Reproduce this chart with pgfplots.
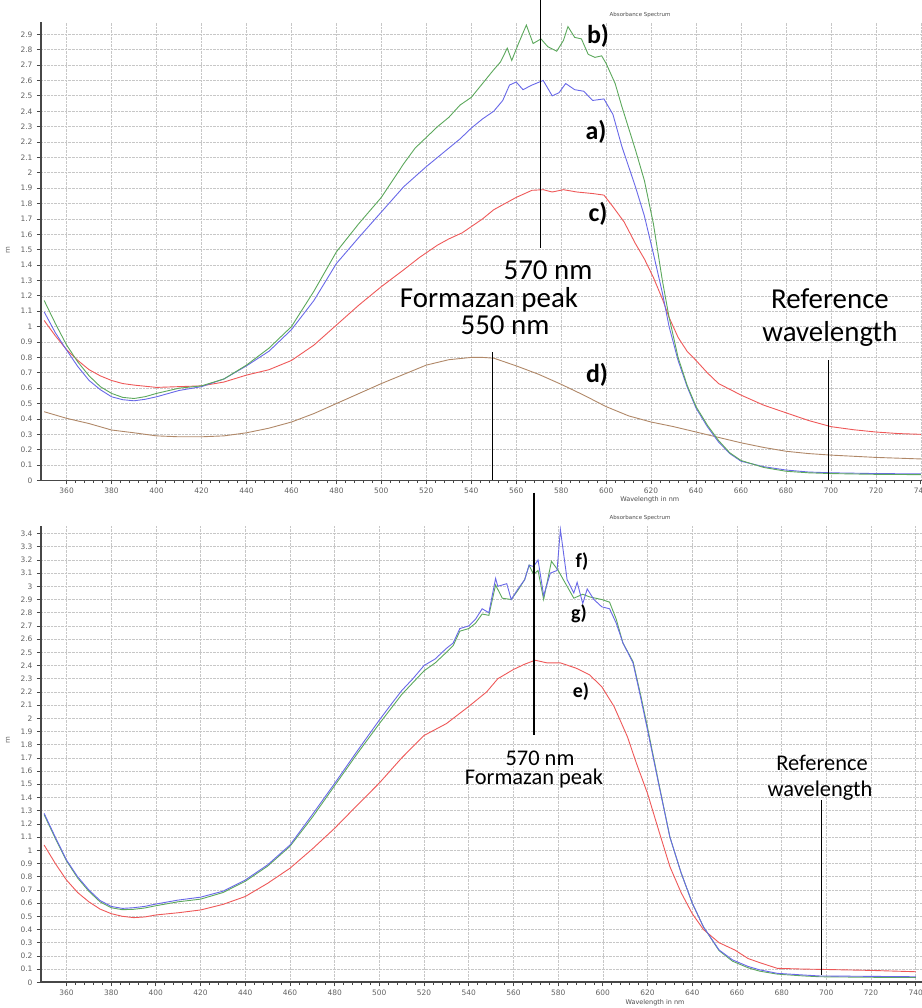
\documentclass[border=0pt]{standalone}
\usepackage{pgfplots}
\pgfplotsset{compat=1.18}
\usepackage{fontspec}
\setmainfont{Carlito}
\newfontfamily\tickfont{DejaVu Sans}
\definecolor{cgreen}{RGB}{92,168,92}
\definecolor{cblue}{RGB}{104,104,232}
\definecolor{cred}{RGB}{238,88,88}
\definecolor{cbrown}{RGB}{176,136,104}
\pgfplotsset{
  spec/.style={
    width=881bp, scale only axis,
    axis x line=bottom, axis y line=left,
    axis line style={-, line width=1.6bp, black!72},
    xtick={360,380,...,740}, minor x tick num=4,
    ytick distance=0.1,
    grid=major, major grid style={densely dotted, black!22, line width=0.7bp},
    tick align=outside, major tick length=4bp, minor tick length=2.5bp,
    every tick/.style={black!72, line width=0.8bp},
    /pgf/number format/assume math mode=true,
    tick label style={font=\tickfont\fontsize{7.5}{8}\selectfont, text=black!62},
    yticklabel style={/pgf/number format/fixed, /pgf/number format/precision=1, xshift=-1bp},
    xticklabel style={/pgf/number format/fixed, /pgf/number format/1000 sep={}},
    clip=false,
    every axis plot/.append style={line width=0.9bp},
  },
}
\tikzset{
  ann/.style={font=\fontsize{29}{30}\selectfont, anchor=base},
  annb/.style={font=\fontsize{22.5}{24}\selectfont, anchor=base},
  lab/.style={font=\bfseries\fontsize{26}{28}\selectfont, anchor=base},
  labb/.style={font=\bfseries\fontsize{20}{22}\selectfont, anchor=base},
}
\begin{document}
\begin{tikzpicture}
% ---------------- top panel ----------------
\begin{axis}[spec, at={(41bp,527.5bp)}, anchor=south west, height=458.5bp,
  xmin=348.6, xmax=740.5, ymin=0, ymax=2.98]
\addplot[cbrown] coordinates {
(350,0.447)(360,0.404)(370,0.37)(380,0.328)(390,0.31)(400,0.29)(410,0.284)(420,0.284)
(430,0.29)(440,0.31)(450,0.34)(460,0.38)(470,0.435)(480,0.50)(490,0.565)(500,0.63)
(510,0.69)(520,0.75)(530,0.785)(540,0.80)(545,0.80)(550,0.795)(560,0.745)(570,0.69)
(580,0.625)(590,0.555)(600,0.48)(610,0.42)(620,0.38)(630,0.35)(640,0.315)(650,0.28)
(660,0.245)(670,0.215)(680,0.19)(690,0.175)(700,0.165)(720,0.15)(740,0.14)};
\addplot[cred] coordinates {
(350,1.04)(355,0.94)(360,0.85)(365,0.78)(370,0.72)(375,0.68)(380,0.65)(385,0.63)
(390,0.62)(400,0.605)(410,0.61)(420,0.615)(430,0.64)(440,0.685)(450,0.72)(460,0.78)
(470,0.88)(480,1.01)(490,1.14)(500,1.26)(510,1.37)(517,1.45)(525,1.53)(530,1.57)
(536,1.61)(540,1.65)(545,1.70)(550,1.76)(555,1.80)(560,1.84)(567,1.886)(572,1.89)
(576,1.875)(581,1.89)(587,1.875)(594,1.865)(599,1.855)(603,1.78)(608,1.68)(613,1.54)
(617,1.44)(621,1.32)(625,1.18)(628,1.06)(632,0.93)(636,0.84)(640,0.78)(645,0.70)
(650,0.63)(660,0.555)(670,0.49)(680,0.44)(690,0.39)(700,0.35)(710,0.33)(720,0.315)
(730,0.305)(740,0.30)};
\addplot[cblue] coordinates {
(350,1.096)(355,0.96)(360,0.847)(365,0.74)(370,0.65)(375,0.59)(380,0.544)(385,0.525)
(390,0.518)(395,0.528)(400,0.544)(410,0.585)(420,0.61)(430,0.66)(440,0.745)(450,0.84)
(460,0.98)(470,1.17)(480,1.41)(490,1.58)(500,1.745)(510,1.91)(520,2.04)(525,2.10)
(530,2.16)(535,2.22)(540,2.29)(545,2.35)(550,2.40)(554,2.47)(557,2.57)(560,2.59)
(563,2.54)(567,2.57)(572,2.60)(576,2.50)(579,2.52)(582,2.58)(586,2.54)(590,2.53)
(594,2.47)(599,2.48)(603,2.38)(607,2.17)(613,1.91)(617,1.72)(621,1.475)(625,1.22)
(628,1.0)(632,0.78)(636,0.61)(640,0.47)(645,0.35)(650,0.25)(655,0.175)(660,0.125)
(670,0.09)(680,0.068)(690,0.055)(700,0.05)(720,0.045)(740,0.043)};
\addplot[cgreen] coordinates {
(350,1.17)(355,1.02)(360,0.88)(365,0.77)(370,0.68)(375,0.61)(380,0.566)(385,0.54)
(390,0.533)(395,0.545)(400,0.566)(410,0.60)(420,0.615)(430,0.66)(440,0.75)(450,0.86)
(460,1.00)(470,1.23)(480,1.486)(490,1.67)(500,1.84)(505,1.95)(510,2.06)(515,2.16)
(520,2.23)(525,2.30)(530,2.36)(535,2.44)(540,2.49)(545,2.58)(550,2.67)(553,2.72)
(556,2.81)(558,2.73)(561,2.84)(564.5,2.96)(567.5,2.84)(571,2.87)(574,2.82)(578,2.79)
(581,2.86)(583,2.95)(586,2.88)(589,2.87)(592,2.77)(595,2.75)(598,2.76)(600,2.71)
(604,2.58)(607,2.43)(613,2.15)(617,1.95)(621,1.67)(625,1.30)(628,1.06)(632,0.80)
(636,0.62)(640,0.48)(645,0.36)(650,0.26)(655,0.18)(660,0.13)(670,0.085)(680,0.06)
(690,0.05)(700,0.045)(720,0.04)(740,0.038)};
\draw[line width=1.1bp] (axis cs:570.8,3.12) -- (axis cs:570.8,1.51);
\draw[line width=1.1bp] (axis cs:549.5,0.834) -- (axis cs:549.5,0);
\draw[line width=1.1bp] (axis cs:698.8,0.78) -- (axis cs:698.8,0);
\node[font=\tickfont\fontsize{6.5}{7}\selectfont, text=black!70] at (axis description cs:0.691,0) [yshift=-19.5bp] {Wavelength in nm};
\node[font=\tickfont\fontsize{5.5}{6}\selectfont, text=black!70] at (axis description cs:0.68,1) [yshift=7bp] {Absorbance Spectrum};
\end{axis}
% ---------------- bottom panel ----------------
\begin{axis}[spec, at={(41bp,25.7bp)}, anchor=south west, height=456.3bp,
  xmin=348.6, xmax=742.8, ymin=0, ymax=3.457]
\addplot[cred] coordinates {
(350,1.04)(355,0.90)(360,0.775)(365,0.68)(370,0.61)(375,0.555)(380,0.52)(385,0.50)
(390,0.49)(395,0.495)(400,0.51)(410,0.527)(420,0.548)(430,0.59)(440,0.65)(450,0.75)
(460,0.864)(470,1.01)(480,1.167)(490,1.34)(500,1.51)(510,1.70)(520,1.87)(530,1.96)
(540,2.09)(548,2.20)(553,2.30)(560,2.37)(565,2.41)(569.7,2.44)(575,2.42)(581,2.42)
(588,2.38)(594,2.33)(599.5,2.24)(605,2.09)(611,1.86)(615,1.66)(620,1.43)(625,1.15)
(630,0.876)(635,0.68)(640,0.52)(645,0.40)(652,0.30)(659,0.245)(665,0.18)(670,0.15)
(678,0.106)(690,0.10)(697,0.098)(720,0.09)(740,0.08)};
\addplot[cgreen] coordinates {
(350,1.27)(355,1.09)(360,0.92)(365,0.79)(370,0.69)(375,0.61)(380,0.565)(385,0.55)
(390,0.553)(395,0.563)(400,0.58)(410,0.61)(420,0.63)(430,0.68)(440,0.765)(450,0.88)
(460,1.03)(470,1.25)(480,1.49)(490,1.73)(500,1.96)(505,2.07)(510,2.18)(515,2.27)
(520,2.36)(525,2.42)(530,2.50)(533,2.55)(536,2.66)(540,2.68)(543,2.72)(546,2.79)
(549,2.78)(552,3.01)(555,2.91)(559,2.90)(562,2.97)(565,3.05)(567,3.16)(569,3.09)
(571,3.12)(573.5,2.90)(577,3.19)(580,3.12)(584,3.00)(587,2.91)(591,2.94)(594,2.92)
(599.5,2.90)(603,2.88)(606,2.75)(609,2.57)(613.5,2.43)(617,2.17)(620,1.93)(625,1.51)
(630,1.10)(635,0.83)(640,0.60)(645,0.42)(652,0.24)(658,0.16)(665,0.11)(670,0.085)
(678,0.062)(690,0.048)(697,0.042)(720,0.038)(740,0.036)};
\addplot[cblue] coordinates {
(350,1.28)(355,1.10)(360,0.927)(365,0.80)(370,0.70)(375,0.62)(380,0.575)(385,0.56)
(390,0.565)(395,0.575)(400,0.593)(410,0.623)(420,0.645)(430,0.69)(440,0.775)(450,0.89)
(460,1.04)(470,1.27)(480,1.507)(490,1.75)(500,1.987)(505,2.10)(510,2.21)(515,2.30)
(520,2.40)(525,2.45)(530,2.53)(533,2.57)(536,2.68)(540,2.70)(543,2.75)(546,2.83)
(549,2.80)(552,3.06)(553,3.00)(557,3.02)(559,2.90)(562,2.98)(565,3.05)(567,3.16)
(569,3.15)(571,3.20)(573.5,2.93)(576.5,3.10)(579.5,3.12)(581,3.43)(584,3.05)(587,2.95)
(588.5,3.03)(591,2.87)(593,2.98)(596,2.90)(599.5,2.845)(603,2.83)(606,2.72)(609,2.57)
(613.5,2.42)(617,2.15)(620,1.91)(625,1.50)(630,1.10)(635,0.83)(640,0.60)(645,0.42)
(652,0.245)(658,0.17)(665,0.12)(670,0.095)(678,0.068)(690,0.055)(697,0.048)(720,0.045)
(740,0.042)};
\draw[line width=1.1bp] (axis cs:569.2,3.71) -- (axis cs:569.2,1.873);
\draw[line width=1.1bp] (axis cs:698,1.38) -- (axis cs:698,0.055);
\node[font=\tickfont\fontsize{6.5}{7}\selectfont, text=black!70] at (axis description cs:0.697,0) [yshift=-20bp] {Wavelength in nm};
\node[font=\tickfont\fontsize{5.5}{6}\selectfont, text=black!70] at (axis description cs:0.68,1) [yshift=8bp] {Absorbance Spectrum};
\end{axis}
% ---------------- annotations ----------------
\node[rotate=90, font=\tickfont\fontsize{7}{8}\selectfont, text=black!60] at (8bp,758bp) {m};
\node[rotate=90, font=\tickfont\fontsize{7}{8}\selectfont, text=black!60] at (8bp,268bp) {m};
% top
\node[ann] at (548bp,728bp) {570 nm};
\node[ann] at (489bp,700bp) {Formazan peak};
\node[ann] at (505bp,673bp) {550 nm};
\node[ann] at (830bp,699bp) {Reference};
\node[ann] at (830bp,666bp) {wavelength};
\node[lab] at (598bp,964bp) {b)};
\node[lab] at (596bp,868bp) {a)};
\node[lab] at (598bp,786bp) {c)};
\node[lab] at (597bp,625bp) {d)};
% bottom
\node[annb] at (540bp,242bp) {570 nm};
\node[annb] at (534bp,223bp) {Formazan peak};
\node[annb] at (822bp,237bp) {Reference};
\node[annb] at (820bp,211bp) {wavelength};
\node[labb] at (582bp,440bp) {f)};
\node[labb] at (579bp,388bp) {g)};
\node[labb] at (581bp,310bp) {e)};
\pgfresetboundingbox
\useasboundingbox (0,0) rectangle (922bp,1008bp);
\end{tikzpicture}
\end{document}
